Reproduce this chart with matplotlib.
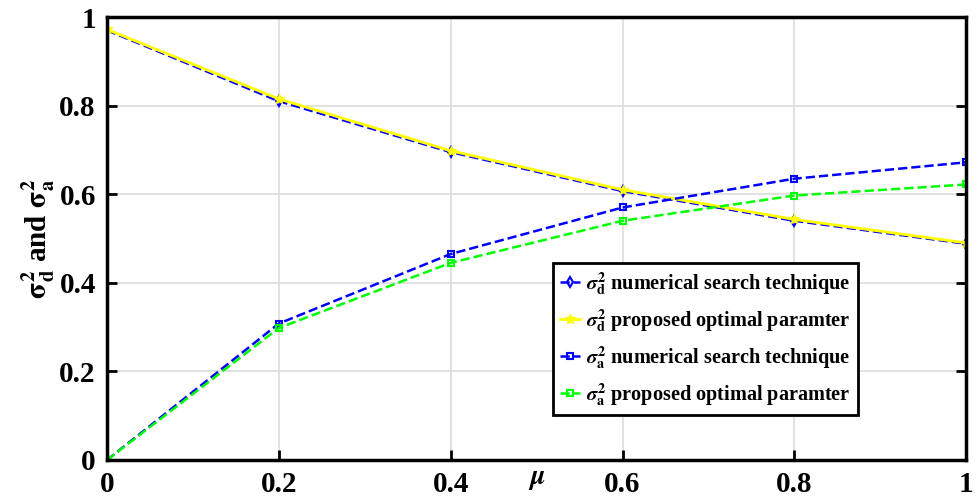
import numpy as np
import matplotlib.pyplot as plt

plt.rcParams['font.family'] = ['Liberation Serif', 'DejaVu Serif']
plt.rcParams['font.weight'] = 'bold'
plt.rcParams['mathtext.fontset'] = 'stix'

mu = [0, 0.2, 0.4, 0.6, 0.8, 1.0]
sd_num = [0.970, 0.810, 0.695, 0.607, 0.540, 0.488]
sd_opt = [0.972, 0.815, 0.698, 0.610, 0.543, 0.490]
sa_num = [0.0, 0.308, 0.465, 0.570, 0.635, 0.672]
sa_opt = [0.0, 0.298, 0.445, 0.540, 0.597, 0.622]

fig = plt.figure(figsize=(9.77, 5), dpi=100)
ax = fig.add_axes([0.1095, 0.08, 0.8795, 0.886])

sd = r'$\sigma_\mathbf{d}^\mathbf{2}$'
sa = r'$\sigma_\mathbf{a}^\mathbf{2}$'
ax.plot(mu, sd_num, '--d', color='blue', mfc='none', mew=1.5, ms=5, lw=1.8,
        label=sd + ' numerical search technique')
ax.plot(mu, sd_opt, '-*', color='yellow', ms=7, lw=2,
        label=sd + ' proposed optimal paramter')
ax.plot(mu, sa_num, '--s', color='blue', mfc='none', mew=1.5, ms=4.5, lw=1.8,
        label=sa + ' numerical search technique')
ax.plot(mu, sa_opt, '--s', color='#00ff00', mfc='none', mew=1.5, ms=4.5, lw=1.8,
        label=sa + ' proposed optimal paramter')

ax.set_xlim(0, 1)
ax.set_ylim(0, 1)
ax.set_xticks([0, 0.2, 0.4, 0.6, 0.8, 1])
ax.set_xticklabels(['0', '0.2', '0.4', '0.6', '0.8', '1'])
ax.set_yticks([0, 0.2, 0.4, 0.6, 0.8, 1])
ax.set_yticklabels(['0', '0.2', '0.4', '0.6', '0.8', '1'])
ax.tick_params(direction='in', labelsize=21, width=2, length=7, pad=8,
               top=False, right=True)
ax.grid(True, color='#dddddd', lw=1.2)
for s in ax.spines.values():
    s.set_linewidth(2.5)

ax.set_ylabel(r'$\mathbf{\sigma}_\mathbf{d}^\mathbf{2}$ and $\mathbf{\sigma}_\mathbf{a}^\mathbf{2}$',
              fontsize=21, fontweight='bold', labelpad=2)
ax.text(0.5, -0.045, r'$\mu$', transform=ax.transAxes, fontsize=20,
        ha='center', va='center')

leg = ax.legend(loc='lower left', bbox_to_anchor=(0.512, 0.088),
                prop={'size': 14.6, 'weight': 'bold'},
                frameon=True, fancybox=False, edgecolor='black', framealpha=1,
                handlelength=1.0, handletextpad=0.3, borderpad=0.35,
                borderaxespad=0.3, labelspacing=0.5)
leg.get_frame().set_linewidth(2)

fig.savefig('out.png', dpi=100)
